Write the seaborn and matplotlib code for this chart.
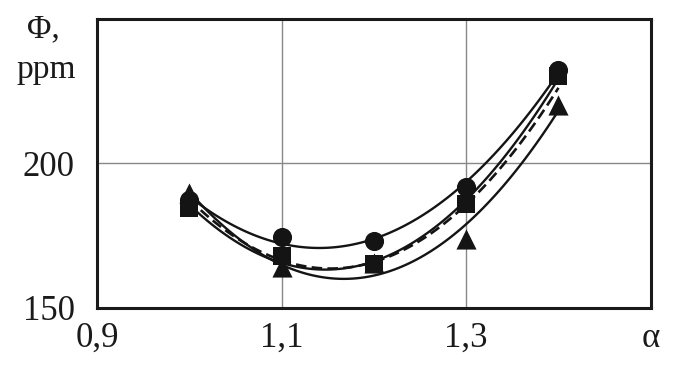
import matplotlib
matplotlib.use("Agg")
import matplotlib.pyplot as plt
import numpy as np
import pandas as pd
import seaborn as sns

alpha = [1.0, 1.1, 1.2, 1.3, 1.4]
phi_circle = [187.5, 174.7, 173.3, 192.0, 232.3]
phi_square = [184.7, 168.0, 165.3, 186.1, 230.2]
phi_triangle = [189.9, 164.2, 165.5, 174.0, 220.1]
phi_dashed = [187.0, 167.5, 166.5, 184.0, 227.0]

x_ticks = [0.9, 1.1, 1.3, 1.5]
x_labels = ["0,9", "1,1", "1,3", "α"]
y_ticks = [150, 200, 250]
y_labels = ["150", "200", ""]

sns.set_style("white")
plt.rcParams["font.family"] = ["Liberation Serif", "DejaVu Serif"]

fig = plt.figure(figsize=(6.73, 3.67), dpi=100)
ax = fig.add_axes([0.144, 0.161, 0.823, 0.787])

df = pd.DataFrame({"alpha": alpha, "circle": phi_circle, "square": phi_square,
                   "triangle": phi_triangle, "dashed": phi_dashed})

# quadratic trend lines, like the spreadsheet original
for col, mk, ms in [("circle", "o", 190), ("square", "s", 150), ("triangle", "^", 210)]:
    sns.regplot(data=df, x="alpha", y=col, order=2, ci=None, truncate=True, ax=ax,
                marker=mk,
                scatter_kws={"s": ms, "color": "#141414", "alpha": 1, "linewidths": 0, "zorder": 3},
                line_kws={"color": "#141414", "lw": 1.7, "zorder": 2})
sns.regplot(data=df, x="alpha", y="dashed", order=2, ci=None, truncate=True, ax=ax,
            scatter=False, line_kws={"color": "#141414", "lw": 1.9, "ls": (0, (4, 2)), "zorder": 2})

ax.set_xlim(0.9, 1.5)
ax.set_ylim(150, 250)
ax.set_xticks(x_ticks)
ax.set_xticklabels(x_labels)
ax.set_yticks(y_ticks)
ax.set_yticklabels(y_labels)
ax.set_xlabel("")
ax.set_ylabel("")
ax.grid(True, color="#888888", lw=1.0)
for s in ax.spines.values():
    s.set_color("#1a1a1a")
    s.set_linewidth(2.2)
ax.tick_params(axis="both", direction="inout", length=12, width=2.0, color="#1a1a1a",
               labelsize=25, labelcolor="#1a1a1a", pad=10)
ax.tick_params(axis="x", pad=4)

fig.text(0.065, 0.92, "Φ,", fontsize=24, color="#1a1a1a", ha="center", va="center")
fig.text(0.068, 0.81, "ppm", fontsize=24, color="#1a1a1a", ha="center", va="center")

fig.savefig("out.png", dpi=100)
